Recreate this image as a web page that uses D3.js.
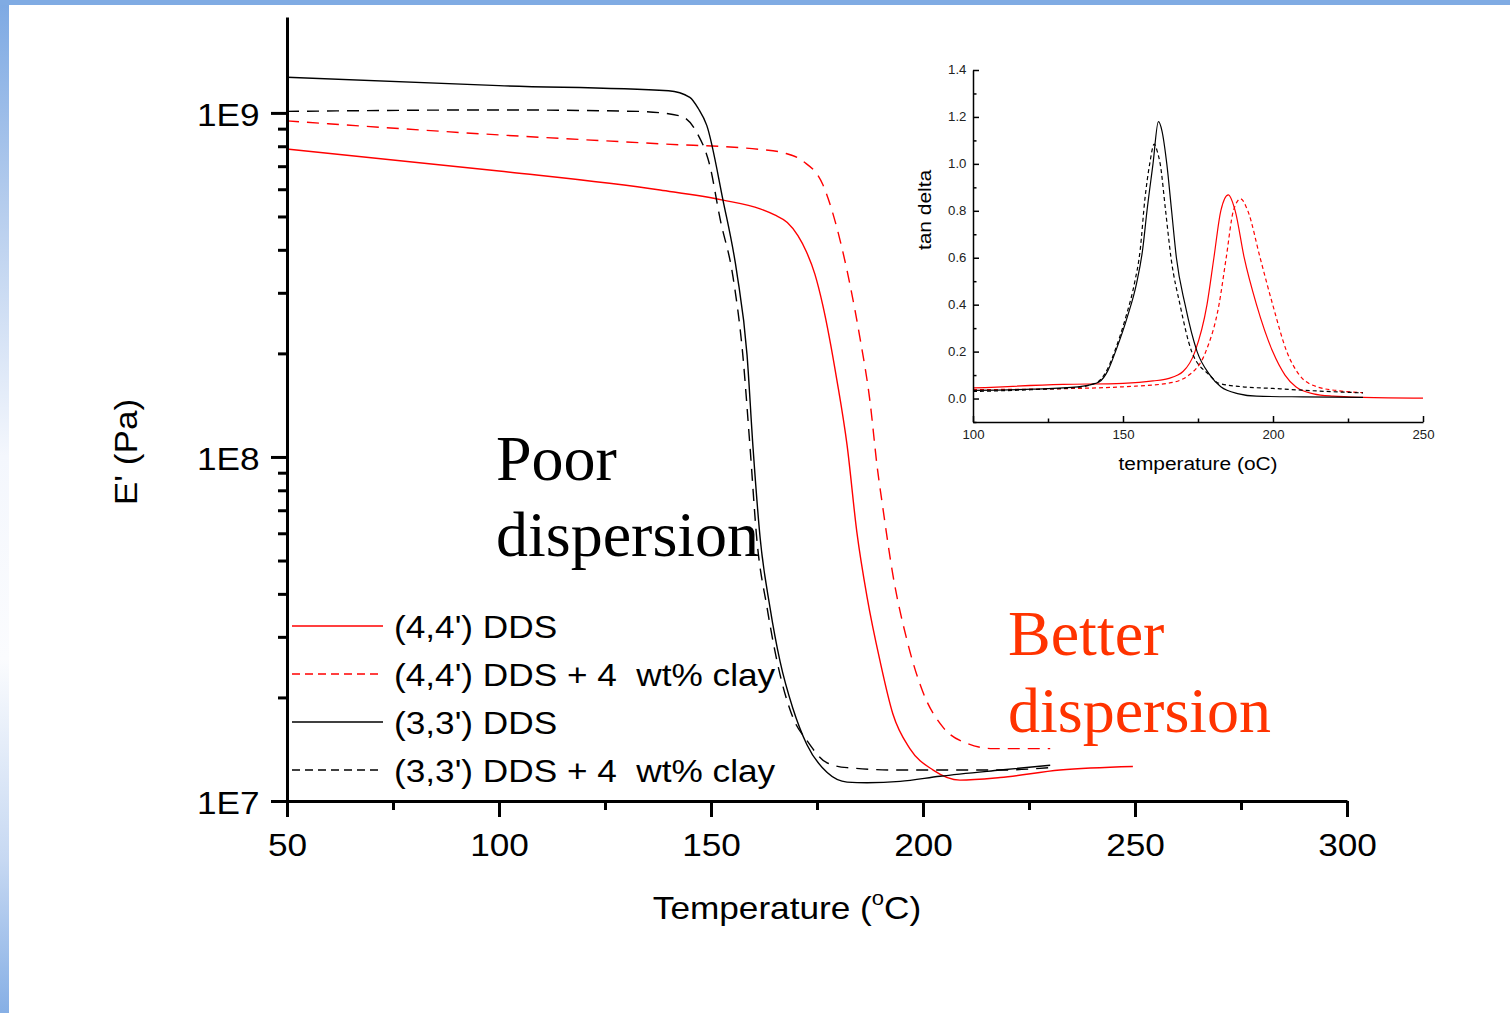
<!DOCTYPE html>
<html><head><meta charset="utf-8">
<script src="https://cdn.jsdelivr.net/npm/d3@7"></script>
<style>html,body{margin:0;padding:0;background:#fff;overflow:hidden}</style>
</head><body><svg id="chart" width="1510" height="1013"></svg>
<script>
// ---------------- DATA ----------------
const seriesNames = ["(4,4') DDS", "(4,4') DDS + 4  wt% clay", "(3,3') DDS", "(3,3') DDS + 4  wt% clay"];
const seriesColors = ["#ff0000", "#ff0000", "#000000", "#000000"];
const seriesDashed = [false, true, false, true];

const xTicksMain = [50, 100, 150, 200, 250, 300];
const xMinorMain = [75, 125, 175, 225, 275];
const yTicksMain = [1e7, 1e8, 1e9];
const yTickLabels = ["1E7", "1E8", "1E9"];
const yMinorMain = [2e7,3e7,4e7,5e7,6e7,7e7,8e7,9e7,2e8,3e8,4e8,5e8,6e8,7e8,8e8,9e8];

// Storage modulus E' (Pa) vs temperature (°C)
const modulus44 = [[50,7.85e8],[100,6.78e8],[138,5.97e8],[152.8,5.58e8],[161.6,5.26e8],[165,5.05e8],[168,4.8e8],[170.5,4.4e8],[172.5,3.95e8],[174.5,3.4e8],[176.4,2.75e8],[179.7,1.67e8],[182.1,1.08e8],[184.4,6.05e7],[186.8,3.92e7],[189.9,2.54e7],[192.9,1.79e7],[196.9,1.42e7],[202.4,1.23e7],[208.7,1.15e7],[218.2,1.17e7],[232.3,1.23e7],[249.5,1.26e7]];
const modulus44clay = [[50,9.48e8],[100,8.63e8],[138,8.13e8],[161.6,7.83e8],[167,7.66e8],[171.7,7.24e8],[176.4,6.18e8],[179.7,4.63e8],[182.8,3.16e8],[185.1,2.23e8],[187.5,1.45e8],[189.2,9.35e7],[190.6,7.02e7],[192.9,4.54e7],[196.2,2.94e7],[200,2.07e7],[204.7,1.64e7],[210.4,1.47e7],[216.5,1.42e7],[230,1.42e7]];
const modulus33 = [[50,1.27e9],[100,1.20e9],[140,1.16e9],[145,1.11e9],[147,1.03e9],[149,9.2e8],[152.8,5.6e8],[156.1,3.43e8],[158.5,1.98e8],[159.9,1.07e8],[161.6,5.8e7],[163.9,3.66e7],[166.3,2.54e7],[169.3,1.86e7],[172.6,1.46e7],[177.4,1.21e7],[182.1,1.135e7],[186.8,1.13e7],[194.6,1.14e7],[204,1.18e7],[218.2,1.23e7],[230,1.27e7]];
const modulus33clay = [[50,1.01e9],[100,1.02e9],[133,1.01e9],[142.7,9.8e8],[146.7,8.75e8],[149.8,6.97e8],[152.1,4.95e8],[155.2,3.33e8],[157.5,1.98e8],[159.2,1.07e8],[160.8,5.78e7],[163.2,3.66e7],[165.6,2.54e7],[169.3,1.75e7],[172.6,1.50e7],[177.4,1.29e7],[182.1,1.25e7],[194.6,1.23e7],[218.2,1.23e7],[230,1.25e7]];

// Inset: tan delta vs temperature
const insetXTicks = [100, 150, 200, 250];
const insetXMinor = [125, 175, 225];
const insetYTicks = [0, 0.2, 0.4, 0.6, 0.8, 1.0, 1.2, 1.4];
const insetYMinor = [-0.1, 0.1, 0.3, 0.5, 0.7, 0.9, 1.1, 1.3];
const tan44 = [[100,0.045],[130,0.06],[150,0.065],[160,0.075],[165,0.085],[170,0.115],[174,0.2],[178,0.4],[180.3,0.6],[182.6,0.8],[185.1,0.868],[187.4,0.8],[190.4,0.6],[194.5,0.4],[199.9,0.2],[204,0.1],[207.6,0.05],[213.5,0.02],[220,0.01],[230,0.005],[250,0.002]];
const tan44clay = [[100,0.038],[130,0.042],[150,0.05],[165,0.065],[172,0.1],[177.6,0.2],[182,0.4],[184.4,0.6],[186.8,0.8],[189.2,0.851],[191.6,0.8],[195.7,0.6],[199.9,0.4],[204.6,0.2],[208.8,0.1],[214.7,0.05],[222,0.033],[230,0.025]];
const tan33 = [[100,0.035],[120,0.04],[135,0.05],[139,0.058],[142,0.07],[145,0.12],[147.5,0.2],[151.5,0.35],[154.5,0.49],[156.5,0.63],[158,0.8],[160,1.0],[161.8,1.18],[163,1.14],[164.6,1.0],[166.2,0.8],[167.8,0.6],[170.7,0.4],[174.7,0.2],[179,0.1],[182.6,0.05],[188.6,0.02],[194.5,0.01],[210,0.007],[230,0.005]];
const tan33clay = [[100,0.03],[120,0.038],[135,0.048],[139,0.058],[142,0.075],[145,0.13],[147.2,0.2],[151,0.35],[153.8,0.49],[155.7,0.63],[157.3,0.85],[158.9,1.0],[160.4,1.084],[161.5,1.05],[162.4,1.0],[164.2,0.8],[166,0.6],[169,0.4],[172.9,0.2],[178.8,0.1],[182,0.065],[190,0.05],[200,0.043],[215,0.032],[230,0.024]];

const mainSeries = [modulus44, modulus44clay, modulus33, modulus33clay];
const insetSeries = [tan44, tan44clay, tan33, tan33clay];

// ---------------- DRAW ----------------
const W = 1510, H = 1013;
const sans = "'Liberation Sans', Arial, sans-serif";
const serif = "'Liberation Serif', 'Times New Roman', serif";
const SX = 1.1;
const svg = d3.select("#chart");

svg.append("rect").attr("width", W).attr("height", H).attr("fill", "#fff");
const defs = svg.append("defs");
const lg = defs.append("linearGradient").attr("id", "edge").attr("x1", 0).attr("y1", 0).attr("x2", 0).attr("y2", 1);
[[0, "#7da9e3"], [0.2, "#b4cced"], [0.45, "#f4f7fd"], [0.65, "#fbfcfe"], [0.85, "#c6d8f2"], [1, "#86afe5"]]
  .forEach(s => lg.append("stop").attr("offset", s[0]).attr("stop-color", s[1]));
svg.append("rect").attr("x", 0).attr("y", 0).attr("width", 9).attr("height", H).attr("fill", "url(#edge)");
svg.append("rect").attr("x", 0).attr("y", 0).attr("width", W).attr("height", 5).attr("fill", "#80abe3");

function stext(parent, str, x, y, size, anchor, fam, color, rot) {
  return parent.append("text")
    .attr("transform", `translate(${x},${y})` + (rot ? ` rotate(${rot})` : "") + ` scale(${SX},1)`)
    .attr("text-anchor", anchor)
    .style("font-family", fam).style("font-size", size + "px")
    .style("white-space", "pre")
    .attr("fill", color)
    .text(str);
}

// ---- main chart ----
const x = d3.scaleLinear().domain([50, 300]).range([287, 1347]);
const y = d3.scaleLog().domain([1e7, 1.9e9]).range([801, 17]);
const line = d3.line().x(d => x(d[0])).y(d => y(d[1])).curve(d3.curveMonotoneX);

const gCurves = svg.append("g");
mainSeries.forEach((s, i) => {
  gCurves.append("path").datum(s).attr("d", line)
    .attr("fill", "none").attr("stroke", seriesColors[i]).attr("stroke-width", 1.4)
    .attr("stroke-dasharray", seriesDashed[i] ? "12,8" : null);
});

function styleAxis(g, sw) {
  g.selectAll("path.domain").attr("stroke", "#000").attr("stroke-width", sw);
  g.selectAll(".tick line").attr("stroke", "#000").attr("stroke-width", sw);
}

const gx = svg.append("g").attr("transform", "translate(0,801)")
  .call(d3.axisBottom(x).tickValues(xTicksMain).tickSize(16).tickSizeOuter(0).tickPadding(16).tickFormat(d3.format("d")));
gx.selectAll("text").style("font-family", sans).style("font-size", "32px").attr("fill", "#000")
  .attr("transform", `scale(${SX},1)`);
styleAxis(gx, 3);
const gxm = svg.append("g").attr("transform", "translate(0,801)")
  .call(d3.axisBottom(x).tickValues(xMinorMain).tickSize(9).tickFormat(""));
gxm.select("path.domain").remove();
styleAxis(gxm, 3);

const gy = svg.append("g").attr("transform", "translate(287,0)")
  .call(d3.axisLeft(y).tickValues(yTicksMain).tickSize(16).tickSizeOuter(0).tickPadding(9)
    .tickFormat((d, i) => yTickLabels[i]));
gy.selectAll("text").style("font-family", sans).style("font-size", "32px").attr("fill", "#000")
  .attr("dy", "0.38em").attr("transform", `scale(${SX},1)`);
styleAxis(gy, 3);
const gym = svg.append("g").attr("transform", "translate(287,0)")
  .call(d3.axisLeft(y).tickValues(yMinorMain).tickSize(9).tickFormat(""));
gym.select("path.domain").remove();
styleAxis(gym, 3);

// axis titles
const xt = svg.append("text")
  .attr("transform", `translate(787,919) scale(${SX},1)`).attr("text-anchor", "middle")
  .style("font-family", sans).style("font-size", "32px").attr("fill", "#000");
xt.append("tspan").text("Temperature (");
xt.append("tspan").attr("dy", -14).style("font-size", "20px").text("o");
xt.append("tspan").attr("dy", 14).text("C)");
stext(svg, "E' (Pa)", 137, 452, 32, "middle", sans, "#000", -90);

// legend
const legRows = [626, 674, 722, 770];
seriesNames.forEach((nm, i) => {
  svg.append("line").attr("x1", 292).attr("x2", 383).attr("y1", legRows[i]).attr("y2", legRows[i])
    .attr("stroke", seriesColors[i]).attr("stroke-width", 1.4)
    .attr("stroke-dasharray", seriesDashed[i] ? "8,5" : null);
  stext(svg, nm, 394, legRows[i] + 12, 32, "start", sans, "#000");
});

// annotations
svg.append("text").attr("x", 496).attr("y", 480).style("font-family", serif).style("font-size", "64px").attr("fill", "#000").text("Poor");
svg.append("text").attr("x", 496).attr("y", 556).style("font-family", serif).style("font-size", "64px").attr("fill", "#000").text("dispersion");
svg.append("text").attr("x", 1008).attr("y", 655).style("font-family", serif).style("font-size", "64px").attr("fill", "#ff3300").text("Better");
svg.append("text").attr("x", 1008).attr("y", 732).style("font-family", serif).style("font-size", "64px").attr("fill", "#ff3300").text("dispersion");

// ---- inset ----
const xi = d3.scaleLinear().domain([100, 250]).range([973, 1423]);
const yi = d3.scaleLinear().domain([-0.1, 1.4]).range([422, 70]);
const linei = d3.line().x(d => xi(d[0])).y(d => yi(d[1])).curve(d3.curveMonotoneX);
const gInset = svg.append("g");
insetSeries.forEach((s, i) => {
  gInset.append("path").datum(s).attr("d", linei)
    .attr("fill", "none").attr("stroke", seriesColors[i]).attr("stroke-width", 1.2)
    .attr("stroke-dasharray", seriesDashed[i] ? "4,3" : null);
});

const gxi = svg.append("g").attr("transform", "translate(0,422)")
  .call(d3.axisBottom(xi).tickValues(insetXTicks).tickSize(-6).tickSizeOuter(0).tickPadding(8).tickFormat(d3.format("d")));
gxi.selectAll("text").style("font-family", sans).style("font-size", "12px").attr("fill", "#222")
  .attr("transform", `scale(${SX},1)`);
styleAxis(gxi, 1.5);
const gxim = svg.append("g").attr("transform", "translate(0,422)")
  .call(d3.axisBottom(xi).tickValues(insetXMinor).tickSize(-3.5).tickFormat(""));
gxim.select("path.domain").remove();
styleAxis(gxim, 1.5);

const gyi = svg.append("g").attr("transform", "translate(973,0)")
  .call(d3.axisLeft(yi).tickValues(insetYTicks).tickSize(-6).tickSizeOuter(0).tickPadding(6).tickFormat(d3.format(".1f")));
gyi.selectAll("text").style("font-family", sans).style("font-size", "12px").attr("fill", "#222")
  .attr("transform", `scale(${SX},1)`);
styleAxis(gyi, 1.5);
const gyim = svg.append("g").attr("transform", "translate(973,0)")
  .call(d3.axisLeft(yi).tickValues(insetYMinor).tickSize(-3.5).tickFormat(""));
gyim.select("path.domain").remove();
styleAxis(gyim, 1.5);

stext(svg, "tan delta", 931, 210, 19, "middle", sans, "#000", -90);
stext(svg, "temperature (oC)", 1198, 470, 19, "middle", sans, "#000");
</script>
</body></html>
